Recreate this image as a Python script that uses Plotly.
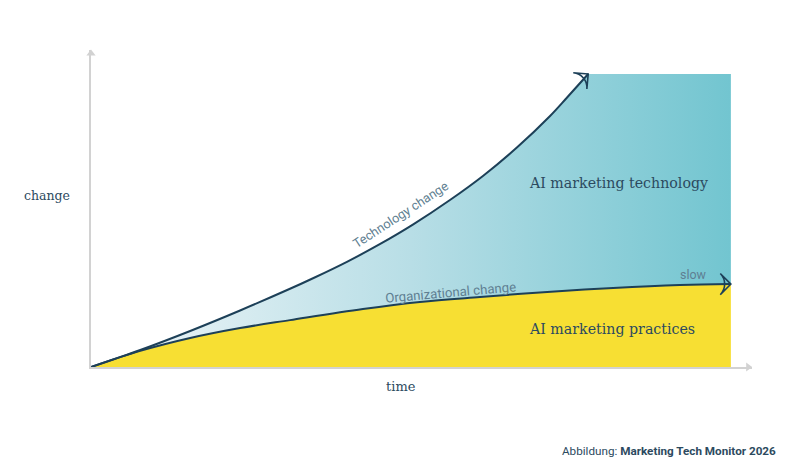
import plotly.graph_objects as go

# values (time 0-100, change 0-100)
tech_time = [0, 7.7, 15.5, 23.3, 31.1, 34.7, 40, 45.2, 50.3, 56.1, 61.3, 66.6, 71.7, 74.4, 77.7]
tech_change = [0, 5.8, 12.3, 19.3, 26.7, 30.3, 35.9, 42, 48.6, 57, 65.3, 75, 85.6, 92, 100]
org_time = [0, 7.7, 15.5, 23.3, 31.1, 42.5, 51.4, 60.8, 71.3, 81.6, 92, 100]
org_change = [0, 5.5, 9.9, 13.3, 16, 19.8, 22.2, 23.9, 25.6, 27, 28, 28.3]

NAVY = "#1d4058"
TEXT = "#2c4a60"
SOFT = "#5f7f92"
GREY = "#d2d2d2"
SERIF = "DejaVu Serif"
SANS = "Roboto"

fig = go.Figure()

# yellow area under the organizational curve
fig.add_trace(go.Scatter(x=org_time, y=org_change, mode="lines", line=dict(width=0),
                         fill="tozeroy", fillcolor="#f7df33", hoverinfo="skip"))

# gradient area between both curves
fig.add_trace(go.Scatter(x=tech_time + [100], y=tech_change + [100], mode="lines", line=dict(width=0),
                         fill="tonexty", hoverinfo="skip",
                         fillgradient=dict(type="horizontal", start=0, stop=100,
                                           colorscale=[[0, "#f2f7f9"], [0.5, "#b8dee6"], [1, "#72c5d0"]])))

# the curves
fig.add_trace(go.Scatter(x=tech_time, y=tech_change, mode="lines",
                         line=dict(color=NAVY, width=2, shape="spline")))
fig.add_trace(go.Scatter(x=org_time, y=org_change, mode="lines",
                         line=dict(color=NAVY, width=2, shape="spline")))

# open arrow heads on the last point of each curve
fig.add_trace(go.Scatter(x=tech_time[-1:], y=tech_change[-1:], mode="markers", cliponaxis=False,
                         marker=dict(symbol="arrow-wide-open", size=15, angle=50, color=NAVY,
                                     line=dict(color=NAVY, width=1.6))))
fig.add_trace(go.Scatter(x=org_time[-1:], y=org_change[-1:], mode="markers", cliponaxis=False,
                         marker=dict(symbol="arrow-wide-open", size=15, angle=90, color=NAVY,
                                     line=dict(color=NAVY, width=1.6))))

# grey tips of the axes
fig.add_trace(go.Scatter(x=[0], y=[107], mode="markers", cliponaxis=False,
                         marker=dict(symbol="triangle-up", size=8, color=GREY)))
fig.add_trace(go.Scatter(x=[102.7], y=[0], mode="markers", cliponaxis=False,
                         marker=dict(symbol="triangle-right", size=8, color=GREY)))

labels = [
    ("AI marketing technology", 82.5, 62.8, 14.2, SERIF, TEXT, 0),
    ("AI marketing practices", 81.4, 13, 14.2, SERIF, TEXT, 0),
    ("Technology change", 48.4, 52.2, 12.8, SANS, SOFT, -33),
    ("Organizational change", 56.25, 25.6, 13.2, SANS, SOFT, -5),
    ("slow", 94.2, 31.7, 12.5, SANS, SOFT, 0),
]
for txt, x, y, size, font, col, ang in labels:
    fig.add_annotation(x=x, y=y, text=txt, showarrow=False, textangle=ang,
                       font=dict(family=font, size=size, color=col))

# outside of the axes, so these go on the paper
fig.add_annotation(xref="paper", yref="paper", x=0.469, y=-0.063, text="time", showarrow=False,
                   xanchor="center", yanchor="middle",
                   font=dict(family=SERIF, size=13, color=TEXT))
fig.add_annotation(xref="paper", yref="paper", x=-0.0666, y=0.54, text="change", showarrow=False,
                   xanchor="center", yanchor="middle",
                   font=dict(family=SERIF, size=12.5, color=TEXT))
fig.add_annotation(xref="paper", yref="paper", x=1.04, y=-0.265, xanchor="right", yanchor="middle",
                   showarrow=False, text="Abbildung: <b>Marketing Tech Monitor 2026</b>",
                   font=dict(family=SANS, size=11.7, color=TEXT))

fig.update_layout(
    width=800, height=473,
    margin=dict(l=91, r=48, t=50, b=106),
    paper_bgcolor="white",
    plot_bgcolor="white",
    showlegend=False,
)
fig.update_xaxes(range=[0, 103.3], showgrid=False, zeroline=False, showticklabels=False, ticks="",
                 showline=True, linecolor=GREY, linewidth=2)
fig.update_yaxes(range=[0, 108.2], showgrid=False, zeroline=False, showticklabels=False, ticks="",
                 showline=True, linecolor=GREY, linewidth=2)

fig.write_html("out.html", config={"displayModeBar": False},
               post_script="document.body.style.margin = '0';")
